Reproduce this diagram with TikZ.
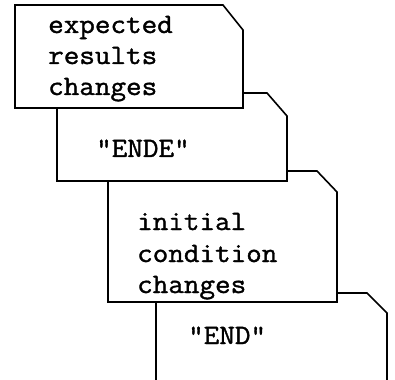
\documentclass[tikz,border=0pt]{standalone}
\usepackage{fontspec}
\newfontfamily\cardfont[FakeStretch=1.08,FakeBold=1.3]{Latin Modern Mono}
\begin{document}
\begin{tikzpicture}[x=1pt,y=-1pt,
  card/.style={draw=black, line width=1.6pt, fill=white, line join=miter},
  txt/.style={anchor=base west, inner sep=0pt, font=\cardfont\fontsize{28}{31}\selectfont}]
\useasboundingbox (0,0) rectangle (395,379);
% card 4 (bottom of the stack)
\draw[card] (156,390) -- (156,293) -- (367,293) -- (387,313) -- (387,390);
% card 3
\draw[card] (108,171) -- (317,171) -- (337,192) -- (337,302) -- (108,302) -- cycle;
% card 2
\draw[card] (57,93) -- (267,93) -- (287,116) -- (287,181) -- (57,181) -- cycle;
% card 1 (top of the stack)
\draw[card] (15,5) -- (223,5) -- (243,30) -- (243,108) -- (15,108) -- cycle;
% texts
\node[txt] (t1a) at (48,33) {expected};
\node[txt] (t1b) at (48,64) {results};
\node[txt] (t1c) at (48,95) {changes};
\node[txt] (t2) at (96,157) {"ENDE"};
\node[txt] (t3a) at (137,230) {initial};
\node[txt] (t3b) at (137,262) {condition};
\node[txt] (t3c) at (137,293) {changes};
\node[txt] (t4) at (188,344) {"END"};
\end{tikzpicture}
\end{document}
